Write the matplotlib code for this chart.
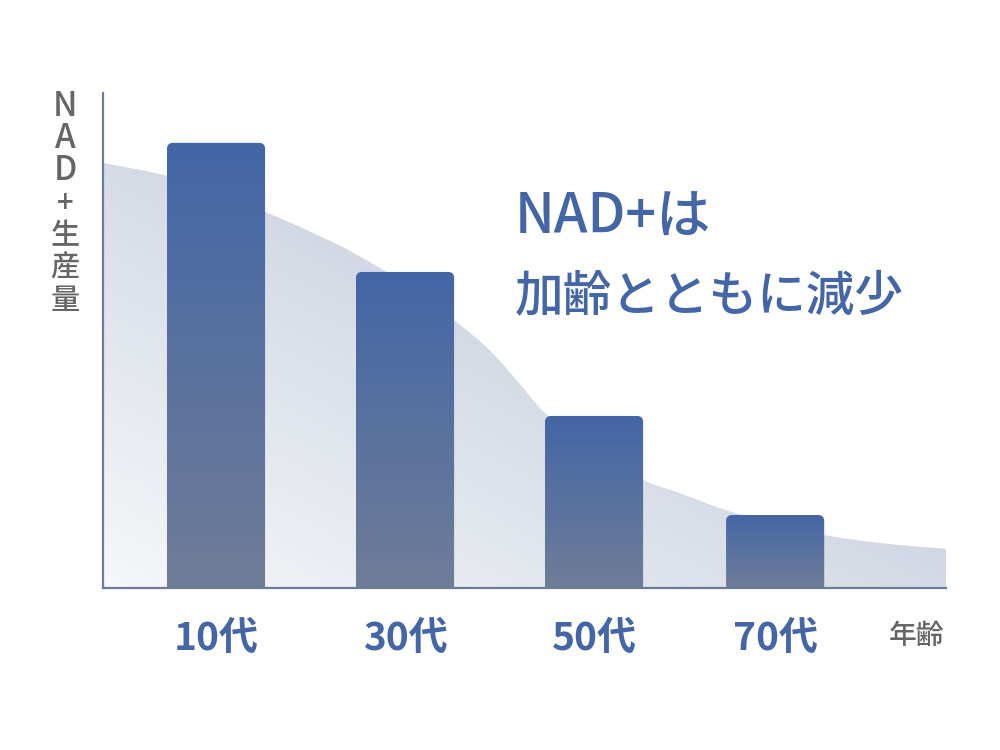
import numpy as np
import matplotlib
matplotlib.use("Agg")
import matplotlib.pyplot as plt
from matplotlib.patches import FancyBboxPatch, PathPatch
from matplotlib.path import Path
from matplotlib.colors import LinearSegmentedColormap

plt.rcParams['font.family'] = ['Noto Sans CJK JP', 'DejaVu Sans']

# ---- data ----
categories = ["10代", "30代", "50代", "70代"]
positions = [0.0, 1.0, 2.0, 2.958]
values = [100.0, 71.0, 38.65, 16.4]
curve_x = [-0.598, -0.259, 0.0, 0.259, 0.444, 0.709, 0.974, 1.259, 1.450,
           1.608, 1.741, 2.0, 2.259, 2.455, 2.698, 2.958, 3.217, 3.513, 3.862]
curve_y = [95.5, 92.6, 89.0, 84.5, 81.1, 75.7, 69.0, 60.2, 53.3,
           45.8, 39.3, 30.6, 24.3, 21.3, 17.5, 14.4, 11.9, 10.1, 8.8]
ylabel_text = "NAD+生産量"
xlabel_text = "年齢"
headline = ["NAD+は", "加齢とともに減少"]

# ---- style ----
blue = "#4466a6"
gray_bar = "#6f7d97"
axis_col = "#6e7b96"
text_gray = "#666666"

fig = plt.figure(figsize=(10, 7.5), dpi=100)
ax = fig.add_axes([0.103, 0.216, 0.843, 0.66])
xmin, xmax = -0.598, 3.862
ymin, ymax = 0.0, 111.2
ax.set_xlim(xmin, xmax)
ax.set_ylim(ymin, ymax)

# smooth outline through the read curve points (Catmull-Rom as cubic Beziers)
pts = np.column_stack([curve_x, curve_y])
verts = [(curve_x[0], 0.0), tuple(pts[0])]
codes = [Path.MOVETO, Path.LINETO]
n = len(pts)
for i in range(n - 1):
    p0 = pts[i - 1] if i > 0 else pts[i]
    p1 = pts[i]
    p2 = pts[i + 1]
    p3 = pts[i + 2] if i + 2 < n else pts[i + 1]
    c1 = p1 + (p2 - p0) / 6.0
    c2 = p2 - (p3 - p1) / 6.0
    verts += [tuple(c1), tuple(c2), tuple(p2)]
    codes += [Path.CURVE4] * 3
verts += [(curve_x[-1], 0.0), (curve_x[0], 0.0)]
codes += [Path.LINETO, Path.CLOSEPOLY]
area = PathPatch(Path(verts, codes), facecolor="none", edgecolor="none")
ax.add_patch(area)

# background area with diagonal gradient
ny, nx = 200, 300
gx = np.linspace(0, 1, nx)
gy = np.linspace(0, 1, ny)
GX, GY = np.meshgrid(gx, gy)
T = np.clip((0.9 * GX + 1.0 * GY) / 1.0, 0, 1)
bg_cmap = LinearSegmentedColormap.from_list("bg", ["#f6f7f9", "#e3e7ee", "#d1d7e3"])
im_bg = ax.imshow(T, cmap=bg_cmap, extent=[xmin, xmax, ymin, ymax], origin="lower",
                  aspect="auto", zorder=1, vmin=0, vmax=1, interpolation="bilinear")
im_bg.set_clip_path(area)

# bars with vertical gradient and rounded top
bar_w = 0.519
bar_cmap = LinearSegmentedColormap.from_list("bar", [gray_bar, blue])
fig.canvas.draw()
bbox = ax.get_window_extent()
px_per_x = bbox.width / (xmax - xmin)
px_per_y = bbox.height / (ymax - ymin)
r_px = 6
r_x = r_px / px_per_x
aspect = (r_px / px_per_y) / r_x
grad = np.linspace(0, 1, 256).reshape(-1, 1)
for p, v in zip(positions, values):
    patch = FancyBboxPatch((p - bar_w / 2, -10), bar_w, v + 10,
                           boxstyle=f"round,pad=0,rounding_size={r_x}",
                           mutation_aspect=aspect,
                           facecolor="none", edgecolor="none", zorder=3)
    ax.add_patch(patch)
    im = ax.imshow(grad, cmap=bar_cmap, extent=[p - bar_w / 2, p + bar_w / 2, 0, v],
                   origin="lower", aspect="auto", zorder=3, interpolation="bilinear")
    im.set_clip_path(patch)

ax.set_xlim(xmin, xmax)
ax.set_ylim(ymin, ymax)

# axes styling
for s in ["top", "right"]:
    ax.spines[s].set_visible(False)
for s in ["left", "bottom"]:
    ax.spines[s].set_color(axis_col)
    ax.spines[s].set_linewidth(1.6)
    ax.spines[s].set_zorder(5)
ax.set_yticks([])
ax.set_xticks(positions, categories)
ax.tick_params(axis="x", length=0, pad=22, labelsize=28, labelcolor=blue)
for lab in ax.get_xticklabels():
    lab.set_fontweight("bold")

# vertical y label (stacked characters)
y0 = 1 - 106 / 750
step = 32.4 / 750
for i, ch in enumerate(ylabel_text):
    size = 24 if ch.isascii() and ch.isalpha() else 21
    fig.text(0.065, y0 - i * step, ch, ha="center", va="center",
             fontsize=size, color=text_gray, fontweight="medium")

# x label
fig.text(0.917, 1 - 635 / 750, xlabel_text, ha="center", va="center",
         fontsize=20, color=text_gray, fontweight="medium")

# headline
fig.text(0.515, 1 - 218 / 750, headline[0], ha="left", va="center",
         fontsize=39, color=blue, fontweight="medium")
fig.text(0.515, 1 - 297 / 750, headline[1], ha="left", va="center",
         fontsize=35, color=blue, fontweight="medium")

fig.savefig("out.png", dpi=100, facecolor="white")
